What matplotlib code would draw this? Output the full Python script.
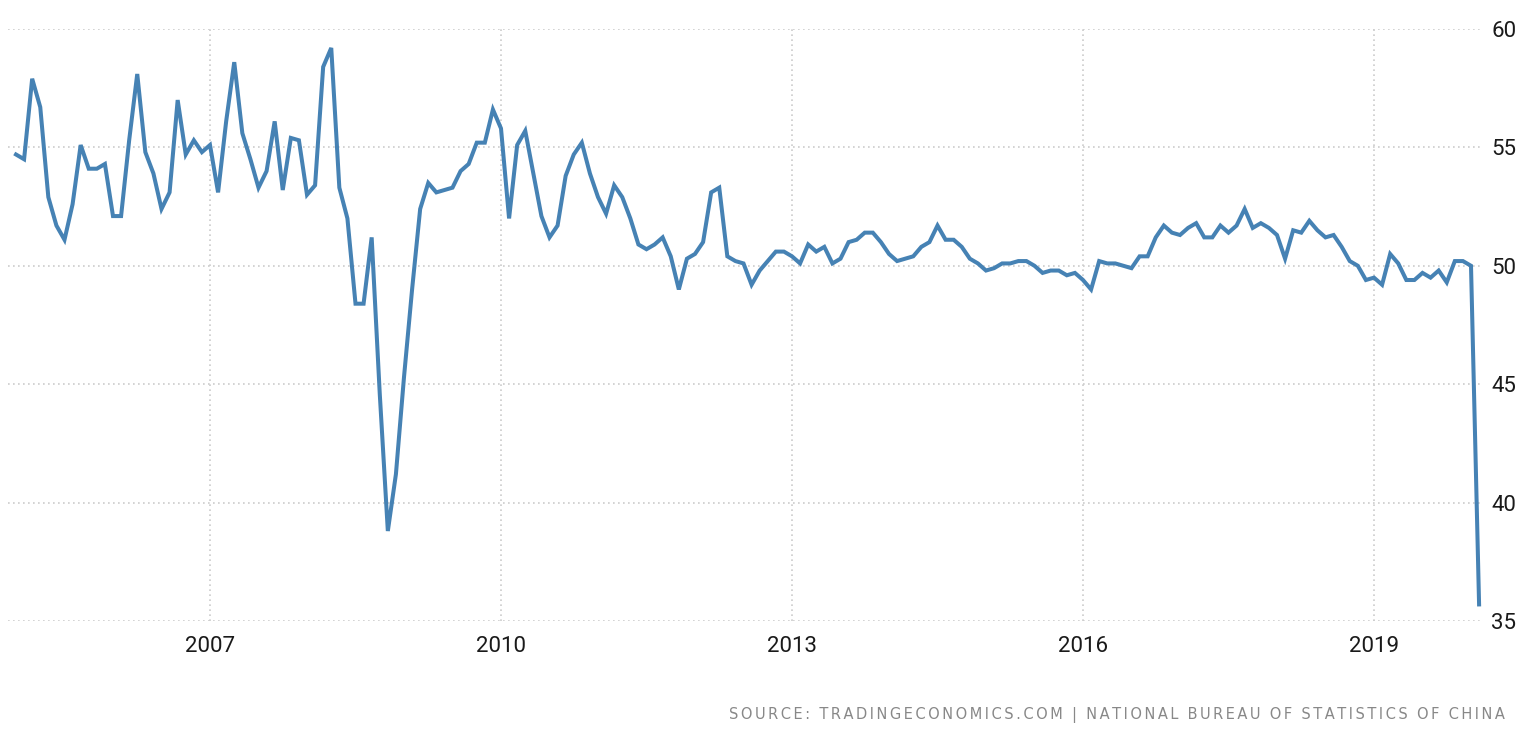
import matplotlib
matplotlib.use('Agg')
import matplotlib.pyplot as plt
import numpy as np

# China NBS manufacturing PMI, monthly from Jan 2005 to Feb 2020
start_year = 2005
pmi = [
    54.7, 54.5, 57.9, 56.7, 52.9, 51.7, 51.1, 52.6, 55.1, 54.1, 54.1, 54.3,  # 2005
    52.1, 52.1, 55.3, 58.1, 54.8, 53.9, 52.4, 53.1, 57.0, 54.7, 55.3, 54.8,  # 2006
    55.1, 53.1, 56.1, 58.6, 55.6, 54.5, 53.3, 54.0, 56.1, 53.2, 55.4, 55.3,  # 2007
    53.0, 53.4, 58.4, 59.2, 53.3, 52.0, 48.4, 48.4, 51.2, 44.6, 38.8, 41.2,  # 2008
    45.3, 49.0, 52.4, 53.5, 53.1, 53.2, 53.3, 54.0, 54.3, 55.2, 55.2, 56.6,  # 2009
    55.8, 52.0, 55.1, 55.7, 53.9, 52.1, 51.2, 51.7, 53.8, 54.7, 55.2, 53.9,  # 2010
    52.9, 52.2, 53.4, 52.9, 52.0, 50.9, 50.7, 50.9, 51.2, 50.4, 49.0, 50.3,  # 2011
    50.5, 51.0, 53.1, 53.3, 50.4, 50.2, 50.1, 49.2, 49.8, 50.2, 50.6, 50.6,  # 2012
    50.4, 50.1, 50.9, 50.6, 50.8, 50.1, 50.3, 51.0, 51.1, 51.4, 51.4, 51.0,  # 2013
    50.5, 50.2, 50.3, 50.4, 50.8, 51.0, 51.7, 51.1, 51.1, 50.8, 50.3, 50.1,  # 2014
    49.8, 49.9, 50.1, 50.1, 50.2, 50.2, 50.0, 49.7, 49.8, 49.8, 49.6, 49.7,  # 2015
    49.4, 49.0, 50.2, 50.1, 50.1, 50.0, 49.9, 50.4, 50.4, 51.2, 51.7, 51.4,  # 2016
    51.3, 51.6, 51.8, 51.2, 51.2, 51.7, 51.4, 51.7, 52.4, 51.6, 51.8, 51.6,  # 2017
    51.3, 50.3, 51.5, 51.4, 51.9, 51.5, 51.2, 51.3, 50.8, 50.2, 50.0, 49.4,  # 2018
    49.5, 49.2, 50.5, 50.1, 49.4, 49.4, 49.7, 49.5, 49.8, 49.3, 50.2, 50.2,  # 2019
    50.0, 35.7,                                                              # 2020
]
year_ticks = [2007, 2010, 2013, 2016, 2019]
value_ticks = [35, 40, 45, 50, 55, 60]
source = 'SOURCE: TRADINGECONOMICS.COM | NATIONAL BUREAU OF STATISTICS OF CHINA'

W, H = 1524, 738
x = start_year + np.arange(len(pmi)) / 12.0

fig = plt.figure(figsize=(W / 100, H / 100), dpi=100)
ax = fig.add_axes([8 / W, 117 / H, (1483 - 8) / W, (621 - 29) / H])

ax.plot(x, pmi, color='#4682b4', lw=2.9, solid_joinstyle='miter')

# pixel -> year mapping (2007 at x=210, 2019 at x=1374)
px_per_year = (1374 - 210) / 12
ax.set_xlim(2007 - (210 - 8) / px_per_year, 2007 + (1483 - 210) / px_per_year)
ax.set_ylim(35, 60)

ax.set_xticks(year_ticks)
ax.set_xticklabels([str(y) for y in year_ticks])
ax.set_yticks(value_ticks)
ax.yaxis.tick_right()
ax.tick_params(axis='both', length=0, labelsize=16, colors='#1a1a1a')
ax.tick_params(axis='x', pad=11)
ax.tick_params(axis='y', pad=6)
for lab in ax.get_xticklabels() + ax.get_yticklabels():
    lab.set_fontfamily('Roboto')

ax.grid(True, color='#cccccc', linestyle=(0, (1, 2)), linewidth=1.2)
for s in ax.spines.values():
    s.set_visible(False)

# wide letter spacing like the original footer
spaced = '\u2006'.join(source).replace('\u2006 \u2006', '  ')
fig.text(1505 / W, 1 - 715 / H, spaced, ha='right', va='center',
         fontsize=10.5, color='#888888')

fig.savefig('out.png', dpi=100)
